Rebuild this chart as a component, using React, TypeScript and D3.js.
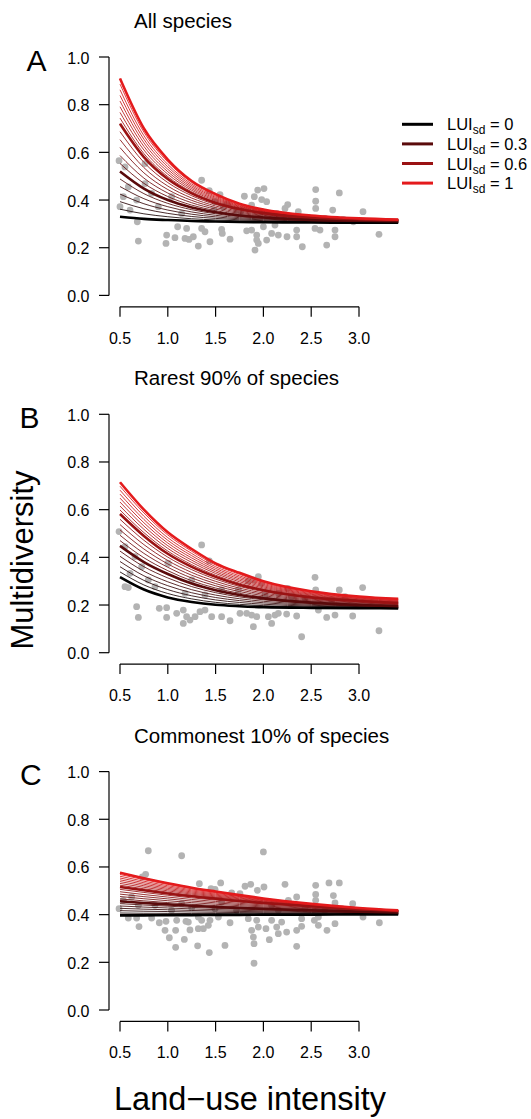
import React from "react";
import * as d3 from "d3";

// ---------- data ----------
const TITLES = ["All species", "Rarest 90% of species", "Commonest 10% of species"];
const LETTERS = ["A", "B", "C"];
const X_TICKS = [0.5, 1.0, 1.5, 2.0, 2.5, 3.0];
const Y_TICKS = [0, 0.2, 0.4, 0.6, 0.8, 1.0];

// LUI values where fitted curves were read
const LUI_GRID = [0.5, 0.75, 1.0, 1.25, 1.5, 1.75, 2.0, 2.5, 3.0, 3.41];
// highlighted LUIsd levels (legend)
const LSD_LEVELS = [0, 0.3, 0.6, 1];
const LSD_LABELS = ["0", "0.3", "0.6", "1"];
// all plotted LUIsd values (thin lines)
const LSD_ALL = [0, 0.05, 0.1, 0.15, 0.2, 0.25, 0.3, 0.35, 0.4, 0.45, 0.5, 0.55, 0.6, 0.65, 0.7, 0.75, 0.8, 0.85, 0.9, 0.95, 1];

// Panel A fitted curves (per LUIsd level)
const curveA_0 = [0.33, 0.321, 0.316, 0.312, 0.31, 0.308, 0.307, 0.306, 0.305, 0.305];
const curveA_03 = [0.52, 0.448, 0.4, 0.369, 0.349, 0.335, 0.327, 0.317, 0.313, 0.311];
const curveA_06 = [0.72, 0.58, 0.488, 0.428, 0.388, 0.362, 0.345, 0.327, 0.319, 0.316];
const curveA_1 = [0.91, 0.7, 0.57, 0.48, 0.425, 0.385, 0.36, 0.335, 0.323, 0.318];
// Panel B
const curveB_0 = [0.317, 0.265, 0.232, 0.213, 0.201, 0.195, 0.191, 0.188, 0.187, 0.186];
const curveB_03 = [0.448, 0.38, 0.33, 0.29, 0.262, 0.242, 0.228, 0.21, 0.2, 0.195];
const curveB_06 = [0.582, 0.49, 0.415, 0.36, 0.318, 0.285, 0.262, 0.232, 0.217, 0.208];
const curveB_1 = [0.715, 0.6, 0.505, 0.435, 0.375, 0.335, 0.3, 0.258, 0.236, 0.226];
// Panel C
const curveC_0 = [0.397, 0.397, 0.398, 0.398, 0.399, 0.399, 0.4, 0.4, 0.401, 0.401];
const curveC_03 = [0.456, 0.449, 0.443, 0.437, 0.432, 0.428, 0.424, 0.418, 0.412, 0.409];
const curveC_06 = [0.516, 0.502, 0.489, 0.477, 0.467, 0.457, 0.449, 0.435, 0.423, 0.415];
const curveC_1 = [0.576, 0.553, 0.532, 0.513, 0.497, 0.482, 0.468, 0.445, 0.428, 0.418];

// observed plots: [land-use intensity, multidiversity]
const pointsA: [number, number][] = [
  [0.49, 0.565], [1.354, 0.483], [1.434, 0.439], [1.546, 0.423], [1.623, 0.386], [1.801, 0.416],
  [1.905, 0.414], [1.94, 0.442], [2.006, 0.448], [1.982, 0.402], [2.034, 0.393], [2.254, 0.381],
  [2.226, 0.365], [2.547, 0.444], [2.547, 0.395], [2.547, 0.365], [2.794, 0.43], [2.725, 0.358],
  [3.042, 0.351], [3.209, 0.256], [0.681, 0.309], [0.692, 0.228], [0.988, 0.253], [0.981, 0.218],
  [1.075, 0.242], [1.103, 0.288], [1.18, 0.239], [1.197, 0.281], [1.267, 0.246], [1.222, 0.235],
  [1.319, 0.207], [1.354, 0.281], [1.389, 0.267], [1.441, 0.225], [1.563, 0.277], [1.57, 0.26],
  [1.651, 0.236], [1.825, 0.271], [1.877, 0.274], [1.93, 0.253], [1.93, 0.232], [1.912, 0.19],
  [1.947, 0.218], [2.0, 0.288], [2.034, 0.232], [2.086, 0.26], [2.121, 0.295], [2.156, 0.253],
  [2.247, 0.246], [2.348, 0.274], [2.348, 0.246], [2.407, 0.204], [2.54, 0.281], [2.592, 0.274],
  [2.662, 0.211], [2.749, 0.274], [2.749, 0.246], [2.941, 0.309], [1.766, 0.354], [1.494, 0.393],
  [1.483, 0.358], [1.581, 0.372], [1.72, 0.358], [1.877, 0.379], [1.982, 0.351], [2.139, 0.344],
  [2.365, 0.351], [2.435, 0.323], [2.644, 0.323], [2.836, 0.319], [0.552, 0.539], [0.587, 0.455],
  [0.535, 0.414], [0.5, 0.372], [0.605, 0.358], [0.674, 0.4], [0.762, 0.553], [0.762, 0.469],
  [0.831, 0.428], [0.901, 0.372], [1.04, 0.414], [1.145, 0.344],
];
const pointsB: [number, number][] = [
  [0.49, 0.508], [0.552, 0.277], [0.587, 0.273], [0.674, 0.193], [0.692, 0.148], [0.911, 0.186],
  [0.988, 0.189], [0.988, 0.148], [1.093, 0.165], [1.162, 0.179], [1.162, 0.123], [1.197, 0.151],
  [1.232, 0.137], [1.285, 0.151], [1.354, 0.452], [1.434, 0.385], [1.337, 0.172], [1.389, 0.179],
  [1.459, 0.151], [1.563, 0.151], [1.651, 0.134], [1.755, 0.165], [1.825, 0.165], [1.842, 0.302],
  [1.895, 0.305], [1.947, 0.319], [1.982, 0.291], [1.877, 0.158], [1.93, 0.151], [1.895, 0.109],
  [2.052, 0.151], [2.086, 0.123], [2.121, 0.158], [2.156, 0.165], [2.243, 0.162], [2.254, 0.27],
  [2.348, 0.154], [2.4, 0.067], [2.54, 0.316], [2.547, 0.263], [2.575, 0.179], [2.662, 0.148],
  [2.749, 0.158], [2.794, 0.263], [2.934, 0.154], [3.038, 0.273], [3.209, 0.092], [0.552, 0.445],
  [0.657, 0.403], [0.727, 0.361], [0.605, 0.333], [0.796, 0.305], [0.866, 0.277], [1.006, 0.375],
  [1.18, 0.249], [1.25, 0.305], [1.389, 0.242], [1.563, 0.263], [1.738, 0.263], [2.017, 0.242],
  [2.156, 0.249], [2.296, 0.235], [2.435, 0.228], [2.714, 0.221], [2.854, 0.235], [1.0, 0.376],
];
const pointsC: [number, number][] = [
  [0.796, 0.668], [1.145, 0.647], [2.0, 0.663], [0.768, 0.569], [0.734, 0.558], [0.49, 0.425],
  [0.587, 0.386], [0.674, 0.386], [0.699, 0.35], [0.831, 0.386], [0.911, 0.366], [0.981, 0.372],
  [0.971, 0.334], [1.016, 0.303], [1.082, 0.263], [1.173, 0.296], [1.082, 0.334], [1.093, 0.376],
  [1.19, 0.372], [1.232, 0.336], [1.215, 0.369], [1.319, 0.39], [1.319, 0.341], [1.372, 0.341],
  [1.354, 0.376], [1.424, 0.355], [1.441, 0.376], [1.312, 0.269], [1.434, 0.241], [1.33, 0.53],
  [1.452, 0.509], [1.494, 0.506], [1.553, 0.533], [1.529, 0.39], [1.598, 0.271], [1.651, 0.366],
  [1.668, 0.491], [1.755, 0.488], [1.808, 0.519], [1.867, 0.527], [1.937, 0.502], [2.006, 0.516],
  [1.842, 0.383], [1.877, 0.334], [1.895, 0.306], [1.902, 0.278], [1.93, 0.376], [1.947, 0.348],
  [2.027, 0.341], [2.062, 0.295], [1.902, 0.196], [2.086, 0.376], [2.139, 0.348], [2.156, 0.32],
  [2.191, 0.369], [2.226, 0.527], [2.243, 0.327], [2.261, 0.46], [2.348, 0.474], [2.348, 0.334],
  [2.348, 0.267], [2.4, 0.383], [2.4, 0.351], [2.547, 0.523], [2.547, 0.485], [2.547, 0.46],
  [2.533, 0.376], [2.575, 0.39], [2.575, 0.355], [2.665, 0.334], [2.686, 0.533], [2.794, 0.533],
  [2.732, 0.48], [2.749, 0.449], [2.749, 0.362], [2.934, 0.446], [3.042, 0.39], [3.213, 0.366],
  [0.535, 0.46], [0.622, 0.474], [0.692, 0.439], [0.866, 0.439], [1.04, 0.418], [1.145, 0.446],
  [1.25, 0.429], [1.494, 0.425], [1.563, 0.453], [1.72, 0.418], [2.086, 0.439], [2.156, 0.418],
  [2.435, 0.425], [2.644, 0.418], [2.819, 0.425],
];

const PANEL_CURVES = [
  [curveA_0, curveA_03, curveA_06, curveA_1],
  [curveB_0, curveB_03, curveB_06, curveB_1],
  [curveC_0, curveC_03, curveC_06, curveC_1],
];
const PANEL_POINTS = [pointsA, pointsB, pointsC];

// ---------- layout ----------
const W = 531;
const H = 1119;
const FONT = "'Liberation Sans', Arial, Helvetica, sans-serif";
const PANEL_STEP = 357.3;
const TOP0 = 57;
const PLOT_H = 238.4;
const AXIS_X = 109;
const LETTER_X = [26.5, 19.5, 20];

const colorRamp = d3.interpolateRgb.gamma(1.3)("#000000", "#E41A1C");

function curveFor(curves: number[][], lsd: number): number[] {
  // values for a given LUIsd from the bracketing highlighted curves
  let i = 0;
  while (i < LSD_LEVELS.length - 2 && lsd > LSD_LEVELS[i + 1]) i++;
  const l0 = LSD_LEVELS[i];
  const l1 = LSD_LEVELS[i + 1];
  const t = (lsd - l0) / (l1 - l0);
  return curves[i].map((v, k) => v + t * (curves[i + 1][k] - v));
}

function Panel({ idx }: { idx: number }) {
  const top = TOP0 + idx * PANEL_STEP;
  const bottom = top + PLOT_H;
  const x = d3.scaleLinear().domain([0.5, 3.0]).range([120, 359]);
  const y = d3.scaleLinear().domain([0, 1]).range([bottom, top]);
  const xAxisY = bottom + 11.4;
  const line = d3
    .line<number>()
    .x((_, i) => x(LUI_GRID[i]))
    .y((d) => y(d))
    .curve(d3.curveMonotoneX);
  const curves = PANEL_CURVES[idx];

  return (
    <g>
      <text x={134} y={top - 29} fontSize={20.5} fontFamily={FONT} fill="#000">
        {TITLES[idx]}
      </text>
      <text x={LETTER_X[idx]} y={top + 13.5} fontSize={30} fontFamily={FONT} fill="#000">
        {LETTERS[idx]}
      </text>
      {/* points */}
      {PANEL_POINTS[idx].map((p, i) => (
        <circle key={i} cx={x(p[0])} cy={y(p[1])} r={3.4} fill="#b3b3b3" />
      ))}
      {/* thin lines */}
      {LSD_ALL.map((l) => (
        <path
          key={"t" + l}
          d={line(curveFor(curves, l)) || ""}
          fill="none"
          stroke={colorRamp(l)}
          strokeWidth={0.85}
        />
      ))}
      {/* highlighted lines */}
      {LSD_LEVELS.map((l, i) => (
        <path
          key={"h" + l}
          d={line(curves[i]) || ""}
          fill="none"
          stroke={colorRamp(l)}
          strokeWidth={2.6}
        />
      ))}
      {/* y axis */}
      <line x1={AXIS_X} x2={AXIS_X} y1={y(0)} y2={y(1)} stroke="#000" strokeWidth={1.2} />
      {Y_TICKS.map((t) => (
        <g key={"y" + t}>
          <line x1={AXIS_X - 10} x2={AXIS_X} y1={y(t)} y2={y(t)} stroke="#000" strokeWidth={1.2} />
          <text
            x={89.5}
            y={y(t) + 6.5}
            textAnchor="end"
            fontSize={16}
            fontFamily={FONT}
            fill="#000"
          >
            {t.toFixed(1)}
          </text>
        </g>
      ))}
      {/* x axis */}
      <line x1={x(0.5)} x2={x(3.0)} y1={xAxisY} y2={xAxisY} stroke="#000" strokeWidth={1.2} />
      {X_TICKS.map((t) => (
        <g key={"x" + t}>
          <line x1={x(t)} x2={x(t)} y1={xAxisY} y2={xAxisY + 10} stroke="#000" strokeWidth={1.2} />
          <text
            x={x(t)}
            y={xAxisY + 36.7}
            textAnchor="middle"
            fontSize={16}
            fontFamily={FONT}
            fill="#000"
          >
            {t.toFixed(1)}
          </text>
        </g>
      ))}
    </g>
  );
}

function Legend() {
  return (
    <g>
      {LSD_LEVELS.map((l, i) => {
        const yy = 124.3 + i * 19.6;
        return (
          <g key={l}>
            <line x1={402} x2={433} y1={yy} y2={yy} stroke={colorRamp(l)} strokeWidth={3} />
            <text x={447} y={yy + 6} fontSize={16.5} fontFamily={FONT} fill="#000">
              <tspan>LUI</tspan>
              <tspan dy={4} fontSize={12}>sd</tspan>
              <tspan dy={-4}>{" = " + LSD_LABELS[i]}</tspan>
            </text>
          </g>
        );
      })}
    </g>
  );
}

export default function App() {
  return (
    <svg
      width={W}
      height={H}
      viewBox={`0 0 ${W} ${H}`}
      style={{ position: "absolute", left: 0, top: 0, background: "#fff" }}
    >
      <rect x={0} y={0} width={W} height={H} fill="#fff" />
      {[0, 1, 2].map((i) => (
        <Panel key={i} idx={i} />
      ))}
      <Legend />
      <text
        transform="translate(33,560) rotate(-90)"
        textAnchor="middle"
        fontSize={31}
        fontFamily={FONT}
        fill="#000"
      >
        Multidiversity
      </text>
      <text x={250} y={1110} textAnchor="middle" fontSize={32.5} fontFamily={FONT} fill="#000">
        Land−use intensity
      </text>
    </svg>
  );
}
